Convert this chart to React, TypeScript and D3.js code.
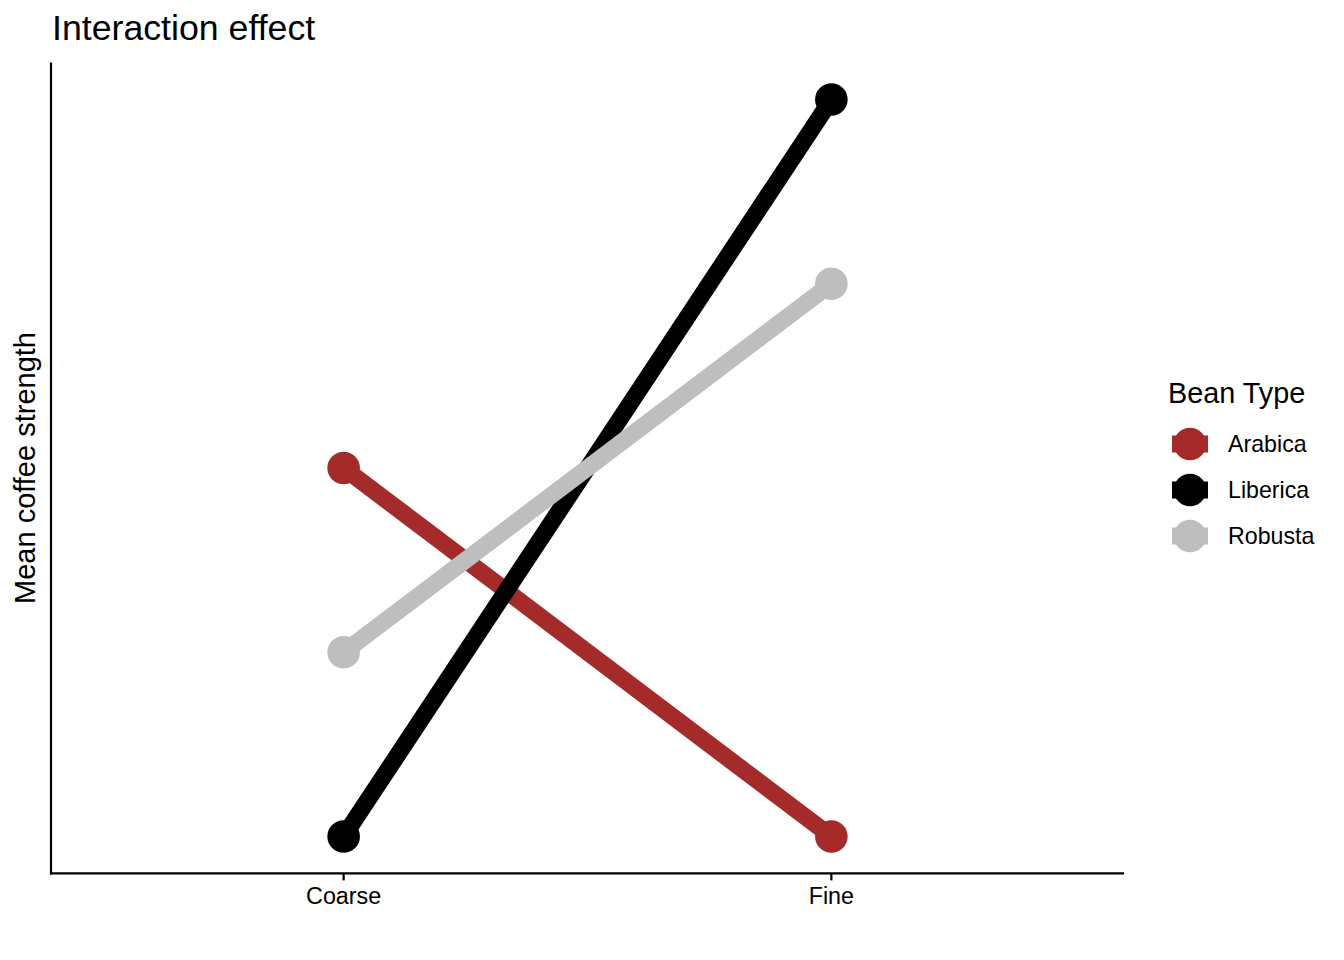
import * as d3 from "d3";
import React from "react";

// grind levels on the x axis
const grindLevels = ["Coarse", "Fine"];
// bean types and their mean strength per grind level
const beanTypes = ["Arabica", "Liberica", "Robusta"];
const arabicaMeans = [6, 4];
const libericaMeans = [4, 8];
const robustaMeans = [5, 7];
const beanColors = ["#a52a2a", "#000000", "#bebebe"];

const seriesValues = [arabicaMeans, libericaMeans, robustaMeans];

const W = 1344;
const H = 960;
const margin = { top: 62.6, right: 220, bottom: 86.6, left: 51 };
const FONT = "'Liberation Sans', Arial, Helvetica, sans-serif";
const LINE_W = 17;
const POINT_R = 16.3;

export default function App() {
  const innerRight = W - margin.right; // 1124
  const innerBottom = H - margin.bottom;

  // discrete x axis with ggplot's 0.6 expansion on each side
  const x = d3.scaleLinear().domain([0.4, grindLevels.length + 0.6]).range([margin.left, innerRight]);
  // continuous y with 5% expansion
  const allVals = seriesValues.flat();
  const [lo, hi] = d3.extent(allVals) as [number, number];
  const pad = (hi - lo) * 0.05;
  const y = d3.scaleLinear().domain([lo - pad, hi + pad]).range([innerBottom, margin.top]);

  const line = d3
    .line<number>()
    .x((_, i) => x(i + 1))
    .y((d) => y(d));

  const legendX = 1168;
  const legendKeyX = 1190;
  const legendRows = [444, 490, 536];

  return (
    <div style={{ position: "fixed", left: 0, top: 0 }}>
      <svg width={W} height={H} style={{ display: "block", background: "#fff" }} fontFamily={FONT}>
        {/* title */}
        <text x={52} y={40} fontSize={35.7} fill="#000">
          Interaction effect
        </text>

        {/* lines */}
        {seriesValues.map((vals, s) => (
          <path key={beanTypes[s]} d={line(vals) || ""} fill="none" stroke={beanColors[s]} strokeWidth={LINE_W} />
        ))}
        {/* points */}
        {seriesValues.map((vals, s) =>
          vals.map((v, i) => (
            <circle key={beanTypes[s] + i} cx={x(i + 1)} cy={y(v)} r={POINT_R} fill={beanColors[s]} />
          ))
        )}

        {/* axes */}
        <line x1={margin.left} x2={margin.left} y1={margin.top} y2={innerBottom + 1} stroke="#000" strokeWidth={2.2} />
        <line x1={margin.left - 1} x2={innerRight} y1={innerBottom} y2={innerBottom} stroke="#000" strokeWidth={2.2} />
        {grindLevels.map((g, i) => (
          <g key={g}>
            <line x1={x(i + 1)} x2={x(i + 1)} y1={innerBottom} y2={innerBottom + 7} stroke="#000" strokeWidth={2.2} />
            <text x={x(i + 1)} y={innerBottom + 31} fontSize={23.3} textAnchor="middle" fill="#000">
              {g}
            </text>
          </g>
        ))}

        {/* y axis title */}
        <text
          transform={`translate(35,${(margin.top + innerBottom) / 2}) rotate(-90)`}
          fontSize={29}
          textAnchor="middle"
          fill="#000"
        >
          Mean coffee strength
        </text>

        {/* legend */}
        <text x={legendX} y={403} fontSize={28.8} fill="#000">
          Bean Type
        </text>
        {beanTypes.map((b, i) => (
          <g key={b}>
            <line
              x1={legendKeyX - 18}
              x2={legendKeyX + 18}
              y1={legendRows[i]}
              y2={legendRows[i]}
              stroke={beanColors[i]}
              strokeWidth={LINE_W}
            />
            <circle cx={legendKeyX} cy={legendRows[i]} r={POINT_R} fill={beanColors[i]} />
            <text x={1228} y={legendRows[i] + 8} fontSize={23.2} fill="#000">
              {b}
            </text>
          </g>
        ))}
      </svg>
    </div>
  );
}
